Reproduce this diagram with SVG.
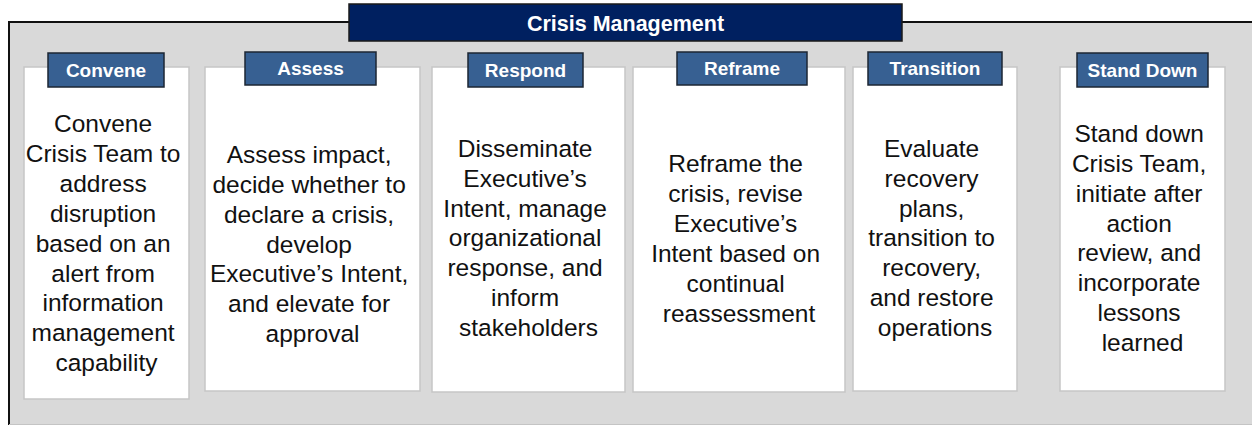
<svg xmlns="http://www.w3.org/2000/svg" width="1252" height="425" viewBox="0 0 1252 425">
  <style>
    .frame { fill: #d9d9d9; }
    .edge { stroke: #111111; stroke-width: 2; fill: none; }
    .card { fill: #ffffff; stroke: #c6c6c6; stroke-width: 1.5; }
    .tag { fill: #376092; stroke: #1c2633; stroke-width: 1.5; }
    .tag-text { font-family: "Liberation Sans", Arial, sans-serif; font-weight: bold; font-size: 19px; fill: #ffffff; text-anchor: middle; }
    .title-box { fill: #002060; stroke: #1a1a1a; stroke-width: 1.5; }
    .title-text { font-family: "Liberation Sans", Arial, sans-serif; font-weight: bold; font-size: 21.5px; fill: #ffffff; text-anchor: middle; }
    .body { font-family: "Liberation Sans", Arial, sans-serif; font-size: 24.5px; fill: #111111; text-anchor: middle; }
  </style>

  <!-- outer band -->
  <g id="frame">
    <rect class="frame" x="9" y="22" width="1260" height="402"/>
    <line x1="9" y1="22" x2="1252" y2="22" class="edge"/>
    <line x1="9" y1="21" x2="9" y2="425" class="edge"/>
    <line x1="9" y1="424.5" x2="1252" y2="424.5" stroke="#c4c4c4" stroke-width="1"/>
  </g>

  <g id="title">
    <rect class="title-box" x="349" y="4" width="553" height="37"/>
    <text class="title-text" x="625.5" y="31">Crisis Management</text>
  </g>

  <g id="convene">
    <rect class="card" x="24" y="67" width="165" height="332"/>
    <rect class="tag" x="48" y="53" width="116" height="34"/>
    <text class="tag-text" x="106" y="77">Convene</text>
    <text class="body" x="106.5">
      <tspan x="106.5" y="132">Convene</tspan>
      <tspan x="106.5" y="162">Crisis Team to</tspan>
      <tspan x="106.5" y="192">address</tspan>
      <tspan x="106.5" y="221.5">disruption</tspan>
      <tspan x="106.5" y="251.5">based on an</tspan>
      <tspan x="106.5" y="281.5">alert from</tspan>
      <tspan x="106.5" y="311">information</tspan>
      <tspan x="106.5" y="341">management</tspan>
      <tspan x="106.5" y="371">capability</tspan>
    </text>
  </g>

  <g id="assess">
    <rect class="card" x="205" y="67" width="215" height="324"/>
    <rect class="tag" x="245" y="52" width="131" height="33"/>
    <text class="tag-text" x="310.5" y="75">Assess</text>
    <text class="body">
      <tspan x="312.5" y="163">Assess impact,</tspan>
      <tspan x="312.5" y="193">decide whether to</tspan>
      <tspan x="312.5" y="223">declare a crisis,</tspan>
      <tspan x="312.5" y="253">develop</tspan>
      <tspan x="312.5" y="282">Executive’s Intent,</tspan>
      <tspan x="312.5" y="312">and elevate for</tspan>
      <tspan x="312.5" y="342">approval</tspan>
    </text>
  </g>

  <g id="respond">
    <rect class="card" x="432" y="67" width="193" height="325"/>
    <rect class="tag" x="468" y="53" width="115" height="34"/>
    <text class="tag-text" x="525.5" y="77">Respond</text>
    <text class="body">
      <tspan x="528.5" y="157">Disseminate</tspan>
      <tspan x="528.5" y="187">Executive’s</tspan>
      <tspan x="528.5" y="216.5">Intent, manage</tspan>
      <tspan x="528.5" y="246">organizational</tspan>
      <tspan x="528.5" y="276">response, and</tspan>
      <tspan x="528.5" y="306">inform</tspan>
      <tspan x="528.5" y="336">stakeholders</tspan>
    </text>
  </g>

  <g id="reframe">
    <rect class="card" x="633" y="67" width="212" height="325"/>
    <rect class="tag" x="677" y="52" width="130" height="33"/>
    <text class="tag-text" x="742" y="75">Reframe</text>
    <text class="body">
      <tspan x="739" y="172">Reframe the</tspan>
      <tspan x="739" y="202">crisis, revise</tspan>
      <tspan x="739" y="232">Executive’s</tspan>
      <tspan x="739" y="261.5">Intent based on</tspan>
      <tspan x="739" y="291.5">continual</tspan>
      <tspan x="739" y="321.5">reassessment</tspan>
    </text>
  </g>

  <g id="transition">
    <rect class="card" x="853" y="67" width="164" height="324"/>
    <rect class="tag" x="868" y="52" width="134" height="33"/>
    <text class="tag-text" x="935" y="75">Transition</text>
    <text class="body">
      <tspan x="935" y="157">Evaluate</tspan>
      <tspan x="935" y="187">recovery</tspan>
      <tspan x="935" y="216.5">plans,</tspan>
      <tspan x="935" y="246">transition to</tspan>
      <tspan x="935" y="276">recovery,</tspan>
      <tspan x="935" y="306">and restore</tspan>
      <tspan x="935" y="335.5">operations</tspan>
    </text>
  </g>

  <g id="stand-down">
    <rect class="card" x="1060" y="67" width="165" height="324"/>
    <rect class="tag" x="1077" y="53" width="131" height="34"/>
    <text class="tag-text" x="1142.5" y="77">Stand Down</text>
    <text class="body">
      <tspan x="1142.5" y="142">Stand down</tspan>
      <tspan x="1142.5" y="172">Crisis Team,</tspan>
      <tspan x="1142.5" y="201.5">initiate after</tspan>
      <tspan x="1142.5" y="231.5">action</tspan>
      <tspan x="1142.5" y="261">review, and</tspan>
      <tspan x="1142.5" y="291">incorporate</tspan>
      <tspan x="1142.5" y="321">lessons</tspan>
      <tspan x="1142.5" y="351">learned</tspan>
    </text>
  </g>

  <!-- the phases are not linked by connectors -->
  <g id="connectors"/>
</svg>
